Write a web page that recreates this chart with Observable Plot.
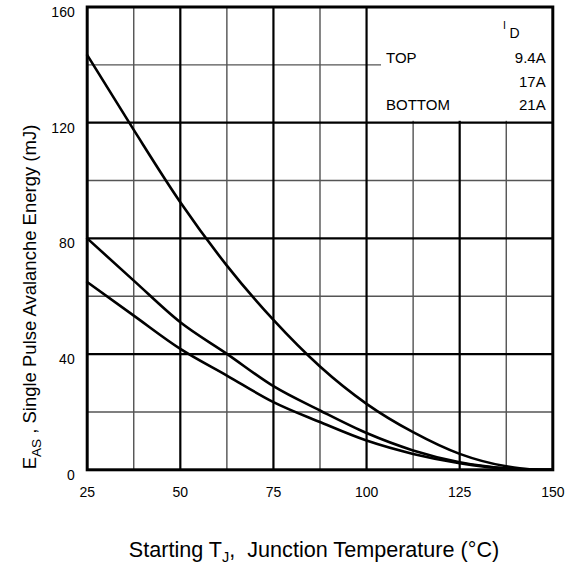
<!DOCTYPE html>
<html><head><meta charset="utf-8">
<script src="https://cdn.jsdelivr.net/npm/d3@7"></script>
<script src="https://cdn.jsdelivr.net/npm/@observablehq/plot@0.6"></script>
<style>
body{margin:0;background:#fff;}
#chart{width:572px;height:565px;position:relative;}
svg text{white-space:pre;}
</style>
</head><body><div id="chart"></div>
<script>
// Starting junction temperature (°C)
const temps = [25, 37.5, 50, 62.5, 75, 87.5, 100, 112.5, 125, 137.5, 143.75, 150];
// Single pulse avalanche energy (mJ) per drain current
const e94A = [143.4, 117.5, 92.5, 70.6, 51.8, 35.7, 22.8, 13.0, 5.5, 1.2, 0.2, 0];
const e17A = [80.0, 65.4, 51.0, 40.1, 28.9, 20.5, 12.7, 6.7, 2.6, 0.5, 0.1, 0];
const e21A = [64.9, 53.3, 41.8, 32.6, 23.4, 16.5, 10.1, 5.5, 2.3, 0.4, 0.1, 0];
const seriesNames = ["9.4A", "17A", "21A"];
const legendLabels = ["TOP", "", "BOTTOM"];
const xTicks = [25, 50, 75, 100, 125, 150];
const yTicks = [0, 40, 80, 120, 160];
const xMajorGrid = [50, 75, 100, 125];
const xMinorGrid = [37.5, 62.5, 87.5, 112.5, 137.5];
const yMajorGrid = [40, 80, 120];
const yMinorGrid = [20, 60, 100, 140];

const allSeries = [e94A, e17A, e21A];
const rows = [];
allSeries.forEach((vals, i) => vals.forEach((v, j) => rows.push({T: temps[j], E: v, id: seriesNames[i]})));

const W = 572, H = 565;
const plot = Plot.plot({
  width: W, height: H,
  marginLeft: 86.7, marginRight: 19.7, marginTop: 6.5, marginBottom: 95.7,
  style: {fontFamily: "'Liberation Sans', Arial, sans-serif", fontSize: "14px", background: "#fff", color: "#000"},
  x: {domain: [25, 150]},
  y: {domain: [0, 160]},
  marks: [
    Plot.ruleX(xMinorGrid, {stroke: "#444", strokeWidth: 1.3}),
    Plot.ruleY(yMinorGrid, {stroke: "#555", strokeWidth: 1.4}),
    Plot.ruleX(xMajorGrid, {stroke: "#000", strokeWidth: 2.2}),
    Plot.ruleY(yMajorGrid, {stroke: "#000", strokeWidth: 2.2}),
    Plot.line(rows, {x: "T", y: "E", z: "id", stroke: "#000", strokeWidth: 2.6, curve: "monotone-x"}),
    Plot.frame({stroke: "#000", strokeWidth: 3}),
    Plot.axisX(xTicks, {tickSize: 0, tickPadding: 17, label: null, fontSize: 14}),
    Plot.axisY(yTicks, {tickSize: 0, tickPadding: 12.5, dy: 5.5, label: null, fontSize: 14})
  ]
});
document.getElementById("chart").appendChild(plot);

const svg = d3.select(plot);
const font = "'Liberation Sans', Arial, sans-serif";
// Legend box (white panel inserted beneath the frame so the border stays visible)
const frameNode = svg.select("[aria-label=frame]").node();
const lg = svg.insert("g", () => frameNode).attr("font-family", font).attr("fill", "#000").attr("text-anchor", "start");
lg.append("rect").attr("x", 381).attr("y", 7).attr("width", 171).attr("height", 113.8).attr("fill", "#fff");
lg.append("text").attr("x", 503).attr("y", 28.6).attr("font-size", 10.5).text("I");
lg.append("text").attr("x", 509.5).attr("y", 38.3).attr("font-size", 14).text("D");
const baselines = [62.7, 87.3, 110.3];
seriesNames.forEach((s, i) => {
  lg.append("text").attr("x", 545.7).attr("y", baselines[i]).attr("text-anchor", "end").attr("font-size", 15).text(s);
  if (legendLabels[i]) lg.append("text").attr("x", 386).attr("y", baselines[i]).attr("text-anchor", "start").attr("font-size", 15).text(legendLabels[i]);
});

// X axis title
const xt = svg.append("text").attr("font-family", font).attr("font-size", 21.6).attr("fill", "#000")
  .attr("x", 314).attr("y", 556.5).attr("text-anchor", "middle");
xt.append("tspan").text("Starting T");
xt.append("tspan").attr("font-size", 14.5).attr("dy", 5).text("J");
xt.append("tspan").attr("dy", -5).text(",  Junction Temperature (°C)");

// Y axis title
const yt = svg.append("text").attr("font-family", font).attr("font-size", 18.5).attr("fill", "#000")
  .attr("transform", "translate(36,297) rotate(-90)").attr("text-anchor", "middle");
yt.append("tspan").text("E");
yt.append("tspan").attr("font-size", 13.5).attr("dy", 5).text("AS");
yt.append("tspan").attr("dy", -5).text(" , Single Pulse Avalanche Energy (mJ)");
</script></body></html>
